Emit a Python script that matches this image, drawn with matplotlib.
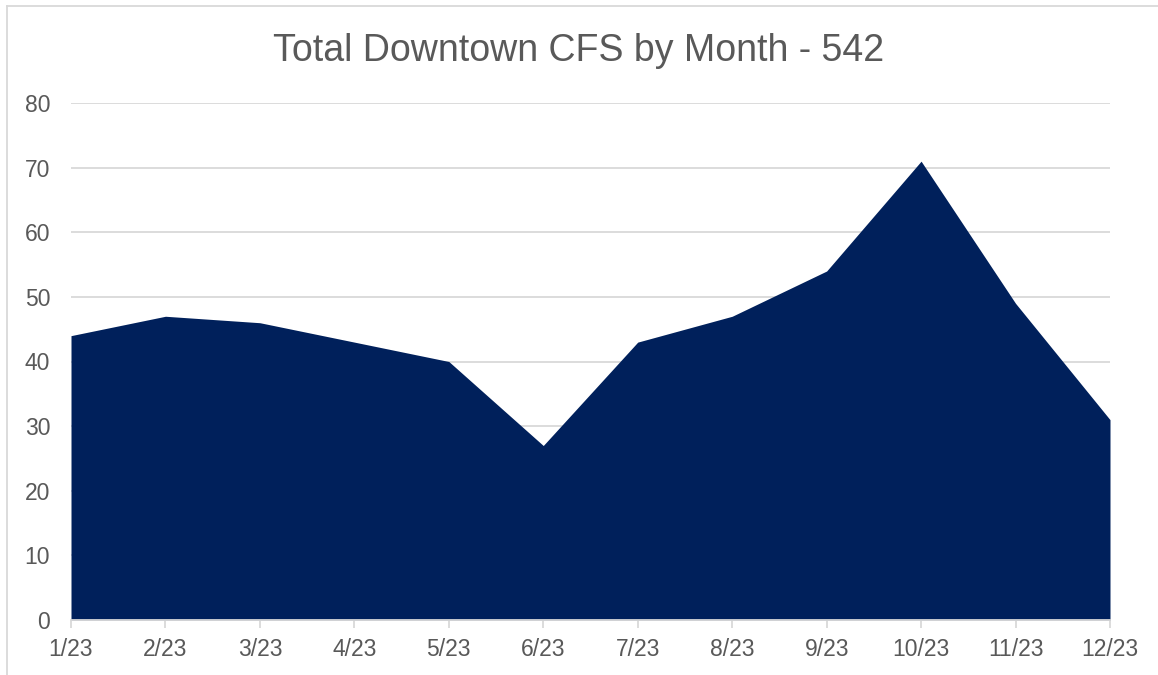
import matplotlib.pyplot as plt
from matplotlib.lines import Line2D

months = ["1/23", "2/23", "3/23", "4/23", "5/23", "6/23",
          "7/23", "8/23", "9/23", "10/23", "11/23", "12/23"]
cfs = [44, 47, 46, 43, 40, 27, 43, 47, 54, 71, 49, 31]
yticks = [0, 10, 20, 30, 40, 50, 60, 70, 80]

plt.rcParams['font.family'] = ['Liberation Sans', 'DejaVu Sans']
fig = plt.figure(figsize=(11.58, 6.75), dpi=100)
ax = fig.add_axes([71 / 1158, 55 / 675, (1110 - 71) / 1158, (620 - 103) / 675])

x = range(len(months))
ax.fill_between(x, 0, cfs, color="#00205B", linewidth=0, zorder=2)

ax.set_xlim(0, len(months) - 1)
ax.set_ylim(0, 80)
ax.set_yticks(yticks)
ax.set_xticks(list(x))
ax.set_xticklabels(months)
ax.grid(axis="y", color="#d9d9d9", linewidth=1.3, zorder=0)
for s in ["top", "right", "left"]:
    ax.spines[s].set_visible(False)
ax.spines["bottom"].set_color("#d9d9d9")
ax.spines["bottom"].set_linewidth(1.3)
ax.spines["bottom"].set_zorder(3)
ax.tick_params(axis="y", length=0, pad=15, labelsize=16.5, labelcolor="#595959")
ax.tick_params(axis="x", length=6, color="#d9d9d9", width=1.3, pad=7,
               labelsize=16.5, labelcolor="#595959")

fig.text(0.5, 1 - 51 / 675, "Total Downtown CFS by Month - 542", ha="center", va="center",
         fontsize=27, color="#595959")

# chart border (top and left visible)
fig.add_artist(Line2D([7 / 1158, 1], [1 - 6 / 675, 1 - 6 / 675], color="#d9d9d9", linewidth=1.3))
fig.add_artist(Line2D([7 / 1158, 7 / 1158], [0, 1 - 6 / 675], color="#d9d9d9", linewidth=1.3))

fig.savefig("out.png", dpi=100)
